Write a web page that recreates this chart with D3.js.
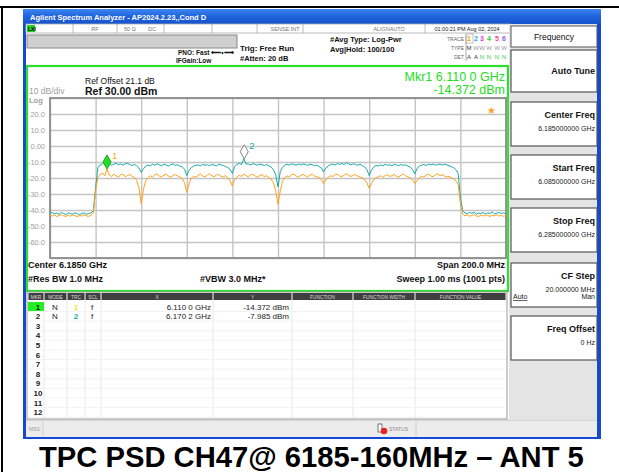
<!DOCTYPE html>
<html><head><meta charset="utf-8">
<script src="https://cdn.jsdelivr.net/npm/d3@7"></script>
<style>body{margin:0;background:#fff}svg{display:block;font-family:"Liberation Sans",Arial,sans-serif}</style>
</head><body><svg id="c" width="619" height="472"></svg>
<script>
// ---------------- data ----------------
const freqStartGHz = 6.085, freqStopGHz = 6.285;      // 201 points, 1 MHz apart
const yRefDbm = 30, yBottomDbm = -70;
const yTickValues = [20, 10, 0, -10, -20, -30, -40, -50, -60];
const yTickLabels = ["20.0", "10.0", "0.00", "-10.0", "-20.0", "-30.0", "-40.0", "-50.0", "-60.0"];

// Trace 1 (yellow/orange, log-power average)
const trace1Avg = [
 -43.2,-43.8,-43.0,-44.1,-43.5,-42.9,-43.7,-44.0,-43.3,-43.9,-43.1,-43.6,-44.2,-43.4,-43.8,-43.0,-43.7,-44.0,-43.2,-42.0,
 -28.0,
 -19.5,-17.8,-16.9,-18.6,-14.372,-18.2,-19.0,-17.6,-18.8,-19.4,-18.1,-17.5,-19.2,-18.4,-17.9,-18.9,-19.6,-21.5,-26.0,
 -36.0,
 -27.0,-21.5,-19.8,-18.6,-19.4,-18.0,-17.4,-18.9,-19.3,-18.2,-17.7,-18.8,-19.5,-18.3,-17.9,-18.7,-19.4,-20.3,-23.0,
 -29.0,
 -23.5,-20.1,-18.9,-19.5,-18.2,-17.6,-18.8,-19.3,-18.0,-17.4,-18.6,-19.2,-18.1,-17.8,-18.9,-19.4,-18.5,-20.0,-21.8,
 -25.0,
 -21.0,-19.2,-18.4,-18.9,-17.6,-18.5,-19.3,-18.1,-17.7,-18.8,-19.5,-18.3,-18.0,-19.1,-18.6,-19.7,-20.6,-23.0,-28.0,
 -36.5,
 -28.0,-22.0,-19.6,-18.7,-19.2,-18.0,-17.5,-18.9,-19.4,-18.3,-17.8,-18.6,-19.3,-18.2,-17.6,-18.8,-19.1,-19.8,-21.0,
 -23.5,
 -21.2,-19.5,-18.6,-19.1,-18.0,-17.6,-18.7,-19.2,-18.1,-17.4,-18.5,-19.0,-18.3,-17.9,-18.8,-19.4,-19.9,-21.0,-23.0,
 -26.5,
 -23.6,-21.0,-19.8,-19.3,-18.5,-19.6,-18.4,-17.9,-19.0,-18.6,-17.7,-18.9,-19.5,-18.2,-17.5,-18.6,-19.3,-20.0,-21.2,
 -23.5,
 -21.5,-19.8,-18.9,-19.4,-18.1,-17.6,-18.7,-19.2,-18.0,-17.3,-18.5,-17.9,-18.8,-19.3,-19.0,-19.8,-20.6,-21.8,
 -24.0,
 -36.0,
 -42.5,-43.6,-43.1,-43.9,-43.4,-42.8,-43.7,-44.1,-43.2,-43.8,-43.0,-43.5,-44.0,-43.3,-43.6,-42.9,-43.8,-43.4,-44.0,-43.2
];

// Trace 2 (cyan, max hold)
const trace2Max = [
 -42.1,-41.6,-42.4,-41.9,-42.8,-41.5,-42.2,-42.9,-41.8,-42.3,-42.6,-41.7,-42.4,-43.0,-42.1,-41.9,-42.7,-42.2,-41.8,-40.5,
 -26.0,
 -13.5,-11.8,-11.2,-10.6,-11.9,-11.0,-12.1,-11.4,-10.8,-11.7,-11.2,-12.0,-11.1,-10.9,-11.6,-12.2,-11.5,-12.4,-13.8,
 -16.5,
 -14.2,-12.6,-11.9,-12.3,-11.4,-12.0,-11.1,-11.8,-12.4,-11.3,-11.9,-12.5,-11.6,-11.2,-12.1,-11.7,-12.6,-13.0,-14.5,
 -18.5,
 -15.2,-13.4,-12.6,-12.1,-11.8,-12.4,-11.5,-12.0,-11.7,-12.3,-11.6,-11.9,-12.5,-11.4,-11.8,-12.2,-12.8,-13.5,-14.6,
 -17.2,
 -12.8,-11.4,-10.9,-11.6,-7.985,-11.2,-11.3,-11.9,-11.0,-11.5,-12.0,-11.3,-11.7,-12.2,-11.6,-12.4,-13.2,-14.8,-18.0,
 -25.5,
 -16.0,-13.2,-12.0,-11.4,-11.9,-11.1,-11.6,-12.0,-11.3,-11.8,-11.2,-11.5,-12.1,-11.4,-11.7,-12.3,-12.0,-12.8,-13.6,
 -16.2,
 -13.8,-12.5,-11.7,-11.3,-11.9,-11.0,-11.5,-10.9,-11.6,-10.4,-11.2,-11.8,-11.1,-11.6,-12.0,-11.4,-12.3,-13.0,-14.8,
 -18.5,
 -15.0,-13.2,-12.1,-12.6,-11.8,-12.3,-11.5,-12.0,-11.7,-12.4,-11.4,-11.9,-12.2,-11.6,-12.1,-11.8,-12.6,-13.1,-14.6,
 -17.5,
 -14.0,-12.6,-12.0,-11.5,-12.2,-11.4,-11.8,-11.2,-12.0,-11.6,-11.3,-11.9,-11.4,-11.8,-12.3,-12.9,-13.5,-14.8,
 -17.0,
 -32.0,
 -40.6,-41.8,-42.3,-41.6,-42.0,-41.4,-42.5,-41.9,-42.2,-41.5,-42.6,-41.8,-42.1,-41.3,-42.4,-41.9,-41.6,-42.2,-41.8,-42.5
];

const markerNumbers = [1, 2];
const markerTraces = [1, 2];
const markerFreqGHz = [6.1100, 6.1702];
const markerValues = [-14.372, -7.985];
const markerXText = ["6.110 0 GHz", "6.170 2 GHz"];
const markerYText = ["-14.372 dBm", "-7.985 dBm"];

const tableHeaders = ["MKR", "MODE", "TRC", "SCL", "X", "Y", "FUNCTION", "FUNCTION WIDTH", "FUNCTION VALUE"];
const softkeyTitles = ["Auto Tune", "Center Freq", "Start Freq", "Stop Freq", "CF Step", "Freq Offset"];
const softkeyValues = ["", "6.185000000 GHz", "6.085000000 GHz", "6.285000000 GHz", "20.000000 MHz", "0 Hz"];

// ---------------- drawing ----------------
const svg = d3.select("#c");
const C = { teal: "#1aa9a9", orange: "#ffa21a", green: "#2ee02e", grid: "#c4c4c4", gray: "#9a9a9a" };

// outer table borders
svg.append("line").attr("x1", 0).attr("x2", 619).attr("y1", 7).attr("y2", 7).attr("stroke", "#000").attr("stroke-width", 2);
svg.append("line").attr("x1", 2).attr("x2", 2).attr("y1", 7).attr("y2", 472).attr("stroke", "#000").attr("stroke-width", 2);

// window
const defs = svg.append("defs");
const g1 = defs.append("linearGradient").attr("id", "tb").attr("x1", 0).attr("y1", 0).attr("x2", 0).attr("y2", 1);
g1.append("stop").attr("offset", "0").attr("stop-color", "#3d86f0");
g1.append("stop").attr("offset", "0.5").attr("stop-color", "#1f63dc");
g1.append("stop").attr("offset", "1").attr("stop-color", "#1653cf");
svg.append("rect").attr("x", 23).attr("y", 9).attr("width", 578).attr("height", 430).attr("fill", "#1449d0");
svg.append("rect").attr("x", 23).attr("y", 9).attr("width", 578).attr("height", 15).attr("fill", "url(#tb)");
svg.append("text").attr("x", 30).attr("y", 20).attr("fill", "#fff").attr("font-size", 7.5).attr("font-weight", "bold")
  .text("Agilent Spectrum Analyzer - AP2024.2.23,,Cond D");
svg.append("rect").attr("x", 26).attr("y", 24).attr("width", 571).attr("height", 413).attr("fill", "#fff");

// status row
const sr = svg.append("g").attr("font-size", 5.5).attr("fill", "#777");
sr.append("rect").attr("x", 26).attr("y", 24).attr("width", 484).attr("height", 9).attr("fill", "#fff").attr("stroke", "#aaa").attr("stroke-width", 0.8);
sr.append("rect").attr("x", 27).attr("y", 25).attr("width", 8).attr("height", 7).attr("fill", "#22d422");
sr.append("text").attr("x", 28).attr("y", 31).attr("fill", "#000").attr("font-size", 5).attr("font-weight", "bold").text("LXI");
[73, 117, 164, 212, 257, 303, 425].forEach(x => sr.append("line").attr("x1", x).attr("x2", x).attr("y1", 24).attr("y2", 33).attr("stroke", "#aaa").attr("stroke-width", 0.8));
sr.append("text").attr("x", 95).attr("y", 31).attr("text-anchor", "middle").text("RF");
sr.append("text").attr("x", 124).attr("y", 31).text("50 Ω");
sr.append("text").attr("x", 148).attr("y", 31).text("DC");
sr.append("text").attr("x", 285).attr("y", 31).attr("text-anchor", "middle").text("SENSE:INT");
sr.append("text").attr("x", 389).attr("y", 31).attr("text-anchor", "middle").text("ALIGNAUTO");
sr.append("text").attr("x", 467).attr("y", 31).attr("text-anchor", "middle").attr("fill", "#222").text("01:00:21 PM Aug 02, 2024");

// settings band
svg.append("rect").attr("x", 27).attr("y", 35).attr("width", 210).attr("height", 13).attr("fill", "#cfcfcf").attr("stroke", "#888").attr("stroke-width", 1);
const sb = svg.append("g").attr("font-weight", "bold").attr("fill", "#111");
sb.append("text").attr("x", 178).attr("y", 55).attr("font-size", 6.5).text("PNO: Fast ⟵•⟶");
sb.append("text").attr("x", 176).attr("y", 63).attr("font-size", 6.5).text("IFGain:Low");
sb.append("text").attr("x", 240).attr("y", 51).attr("font-size", 8).text("Trig: Free Run");
sb.append("text").attr("x", 240).attr("y", 61).attr("font-size", 7.5).text("#Atten: 20 dB");
sb.append("text").attr("x", 330).attr("y", 42).attr("font-size", 7.5).text("#Avg Type: Log-Pwr");
sb.append("text").attr("x", 330).attr("y", 52).attr("font-size", 7.5).text("Avg|Hold: 100/100");
const tr = svg.append("g").attr("font-size", 5).attr("fill", "#666");
tr.append("text").attr("x", 464).attr("y", 41).attr("text-anchor", "end").text("TRACE");
tr.append("text").attr("x", 464).attr("y", 50).attr("text-anchor", "end").text("TYPE");
tr.append("text").attr("x", 464).attr("y", 59).attr("text-anchor", "end").text("DET");
tr.append("line").attr("x1", 466).attr("x2", 466).attr("y1", 35).attr("y2", 61).attr("stroke", "#aaa");
const traceCols = ["#f0a500", "#1ab0d0", "#e040e0", "#30d030", "#ff4090", "#9060f0"];
const digitX = [469, 476, 482, 489, 497, 504];
digitX.forEach((x, i) => {
  tr.append("text").attr("x", x).attr("y", 41).attr("font-size", 7).attr("font-weight", "bold").attr("fill", traceCols[i]).attr("text-anchor", "middle").text(i + 1);
  tr.append("text").attr("x", x).attr("y", 50).attr("font-size", 6).attr("fill", i === 0 ? "#333" : "#999").attr("text-anchor", "middle").text(i === 0 ? "M" : "W");
  tr.append("text").attr("x", x).attr("y", 59).attr("font-size", 6).attr("fill", i < 2 ? "#333" : "#3c3").attr("text-anchor", "middle").text(i < 2 ? "A" : "N");
});
tr.append("rect").attr("x", 466).attr("y", 34).attr("width", 7).attr("height", 9).attr("fill", "none").attr("stroke", "#999").attr("stroke-width", 0.6);

// plot panel (green frame)
svg.append("rect").attr("x", 27).attr("y", 66).attr("width", 481).attr("height", 225).attr("fill", "#fff").attr("stroke", C.green).attr("stroke-width", 2.2);

const x = d3.scaleLinear().domain([freqStartGHz, freqStopGHz]).range([50, 506]);
const y = d3.scaleLinear().domain([yBottomDbm, yRefDbm]).range([258, 98]);
const freqs = d3.range(trace1Avg.length).map(i => freqStartGHz + i * (freqStopGHz - freqStartGHz) / (trace1Avg.length - 1));
const divX = d3.range(11).map(i => freqStartGHz + i * (freqStopGHz - freqStartGHz) / 10);
const divY = d3.range(yBottomDbm, yRefDbm + 1, 10);

const grid = svg.append("g");
grid.append("g").attr("transform", "translate(0,258)")
  .call(d3.axisBottom(x).tickValues(divX).tickSize(-160).tickFormat(""))
  .call(g => { g.select(".domain").remove(); g.selectAll("line").attr("stroke", C.grid).attr("stroke-width", 1.4); });
grid.append("g").attr("transform", "translate(50,0)")
  .call(d3.axisLeft(y).tickValues(divY).tickSize(-456).tickFormat(""))
  .call(g => { g.select(".domain").remove(); g.selectAll("line").attr("stroke", C.grid).attr("stroke-width", 1.4); });
svg.append("rect").attr("x", 50).attr("y", 98).attr("width", 456).attr("height", 160).attr("fill", "none").attr("stroke", "#8c8c8c").attr("stroke-width", 1.8);

// y labels
svg.append("g").attr("transform", "translate(47,0)")
  .call(d3.axisLeft(y).tickValues(yTickValues).tickSize(0).tickFormat((d, i) => yTickLabels[i]))
  .call(g => { g.select(".domain").remove(); g.selectAll("text").attr("fill", "#a0a0a0").attr("font-size", 7.5).attr("font-family", "Liberation Sans, Arial").attr("dx", 1); });

// traces
const line = d3.line().x((d, i) => x(freqs[i])).y(d => y(d));
svg.append("path").datum(trace2Max).attr("d", line).attr("fill", "none").attr("stroke", C.teal).attr("stroke-width", 1.0);
svg.append("path").datum(trace1Avg).attr("d", line).attr("fill", "none").attr("stroke", C.orange).attr("stroke-width", 1.0);

// markers
markerNumbers.forEach((n, i) => {
  const mx = x(markerFreqGHz[i]), my = y(markerValues[i]);
  svg.append("path").attr("d", `M${mx},${my}L${mx - 4},${my - 7}L${mx},${my - 14}L${mx + 4},${my - 7}Z`)
    .attr("fill", i === 0 ? "#22dd22" : "#fff").attr("stroke", i === 0 ? "#15a015" : "#777").attr("stroke-width", 0.9);
  svg.append("text").attr("x", mx + 5).attr("y", my - 10).attr("font-size", 9.5)
    .attr("fill", markerTraces[i] === 1 ? C.orange : C.teal).text(n);
});
svg.append("text").attr("x", 491).attr("y", 114).attr("text-anchor", "middle").attr("font-size", 10).attr("fill", C.orange).text("★");

// annotations in plot panel
svg.append("text").attr("x", 85).attr("y", 84).attr("font-size", 8.5).attr("fill", "#111").text("Ref Offset 21.1 dB");
svg.append("text").attr("x", 85).attr("y", 95).attr("font-size", 10.5).attr("font-weight", "bold").attr("fill", "#111").text("Ref 30.00 dBm");
svg.append("text").attr("x", 29).attr("y", 94).attr("font-size", 8.5).attr("fill", "#a0a0a0").text("10 dB/div");
svg.append("text").attr("x", 29).attr("y", 102.5).attr("font-size", 7.5).attr("font-weight", "bold").attr("fill", "#a0a0a0").text("Log");
svg.append("text").attr("x", 505).attr("y", 81).attr("text-anchor", "end").attr("font-size", 12.5).attr("fill", "#22dd22")
  .text(`Mkr${markerNumbers[0]} ${markerXText[0]}`);
svg.append("text").attr("x", 505).attr("y", 94).attr("text-anchor", "end").attr("font-size", 12.5).attr("fill", "#22dd22")
  .text(markerYText[0]);

const bt = svg.append("g").attr("font-size", 9).attr("font-weight", "bold").attr("fill", "#111");
bt.append("text").attr("x", 28).attr("y", 268).text("Center 6.1850 GHz");
bt.append("text").attr("x", 505).attr("y", 268).attr("text-anchor", "end").text("Span 200.0 MHz");
bt.append("text").attr("x", 28).attr("y", 282).text("#Res BW 1.0 MHz");
bt.append("text").attr("x", 200).attr("y", 282).text("#VBW 3.0 MHz*");
bt.append("text").attr("x", 505).attr("y", 282).attr("text-anchor", "end").text("Sweep  1.00 ms (1001 pts)");

// marker table
const colX = [28, 44, 67, 85, 101, 213, 292, 353, 415, 506];
const tb = svg.append("g");
tb.append("rect").attr("x", 27).attr("y", 292).attr("width", 480).attr("height", 127).attr("fill", "#fff").attr("stroke", "#999").attr("stroke-width", 1);
tableHeaders.forEach((h, i) => {
  tb.append("rect").attr("x", colX[i] + 0.5).attr("y", 293).attr("width", colX[i + 1] - colX[i] - 1).attr("height", 7).attr("fill", "#3f3f3f");
  tb.append("text").attr("x", (colX[i] + colX[i + 1]) / 2).attr("y", 298.5).attr("text-anchor", "middle").attr("font-size", 4.8).attr("fill", "#ddd").text(h);
});
colX.slice(1, -1).forEach(cx => tb.append("line").attr("x1", cx).attr("x2", cx).attr("y1", 300).attr("y2", 418).attr("stroke", "#e2e2e2").attr("stroke-width", 0.8));
d3.range(12).forEach(r => {
  const yb = 309.5 + r * 9.6;
  tb.append("line").attr("x1", 28).attr("x2", 506).attr("y1", yb + 2).attr("y2", yb + 2).attr("stroke", "#eee").attr("stroke-width", 0.7);
  if (r === 0) tb.append("rect").attr("x", 28).attr("y", yb - 7.5).attr("width", 16).attr("height", 9).attr("fill", "#22ee22");
  tb.append("text").attr("x", 38).attr("y", yb).attr("text-anchor", "middle").attr("font-size", 8).attr("font-weight", "bold").attr("fill", "#222").text(r + 1);
});
markerNumbers.forEach((n, i) => {
  const yb = 309.5 + i * 9.6;
  tb.append("text").attr("x", 55).attr("y", yb).attr("text-anchor", "middle").attr("font-size", 8).attr("fill", "#222").text("N");
  tb.append("text").attr("x", 76).attr("y", yb).attr("text-anchor", "middle").attr("font-size", 8).attr("font-weight", "bold")
    .attr("fill", markerTraces[i] === 1 ? "#f0e020" : C.teal).text(markerTraces[i]);
  tb.append("text").attr("x", 92).attr("y", yb).attr("text-anchor", "middle").attr("font-size", 8).attr("fill", "#222").text("f");
  tb.append("text").attr("x", 211).attr("y", yb).attr("text-anchor", "end").attr("font-size", 8).attr("fill", "#222").text(markerXText[i]);
  tb.append("text").attr("x", 289).attr("y", yb).attr("text-anchor", "end").attr("font-size", 8).attr("fill", "#222").text(markerYText[i]);
});

// msg bar
svg.append("rect").attr("x", 26).attr("y", 420).attr("width", 571).attr("height", 17).attr("fill", "#ececec");
svg.append("line").attr("x1", 26).attr("x2", 597).attr("y1", 420).attr("y2", 420).attr("stroke", "#bbb");
svg.append("text").attr("x", 29).attr("y", 431).attr("font-size", 5).attr("fill", "#999").text("MSG");
[43, 416].forEach(lx => svg.append("line").attr("x1", lx).attr("x2", lx).attr("y1", 421).attr("y2", 436).attr("stroke", "#ccc"));
svg.append("rect").attr("x", 378).attr("y", 424).attr("width", 4).attr("height", 8).attr("fill", "#fff").attr("stroke", "#555").attr("stroke-width", 0.8);
svg.append("circle").attr("cx", 384).attr("cy", 431).attr("r", 3.3).attr("fill", "#e22");
svg.append("text").attr("x", 389).attr("y", 431).attr("font-size", 5).attr("fill", "#888").text("STATUS");

// softkey panel
svg.append("rect").attr("x", 509).attr("y", 24).attr("width", 88).attr("height", 396).attr("fill", "#e4e4e4");
svg.append("rect").attr("x", 511).attr("y", 26).attr("width", 86).attr("height", 21).attr("fill", "#fff").attr("stroke", "#555").attr("stroke-width", 1);
svg.append("text").attr("x", 554).attr("y", 39.5).attr("text-anchor", "middle").attr("font-size", 8.5).attr("fill", "#111").text("Frequency");
const keyTop = [50, 102, 155, 208, 263, 316];
softkeyTitles.forEach((t, i) => {
  const ty = keyTop[i], h = i === 0 ? 42 : 44;
  svg.append("rect").attr("x", 511).attr("y", ty).attr("width", 86).attr("height", h).attr("fill", "#fff").attr("stroke", "#555").attr("stroke-width", 1.2);
  const tY = i === 0 ? ty + 24 : ty + 16;
  svg.append("text").attr("x", 595).attr("y", tY).attr("text-anchor", "end").attr("font-size", 9).attr("font-weight", "bold").attr("fill", "#111").text(t);
  if (softkeyValues[i]) svg.append("text").attr("x", 595).attr("y", tY + 13).attr("text-anchor", "end").attr("font-size", 7).attr("fill", "#222").text(softkeyValues[i]);
});
svg.append("text").attr("x", 513).attr("y", 299).attr("font-size", 7).attr("fill", "#222").attr("text-decoration", "underline").text("Auto");
svg.append("text").attr("x", 595).attr("y", 299).attr("text-anchor", "end").attr("font-size", 7).attr("fill", "#222").text("Man");

// caption
svg.append("text").attr("x", 39).attr("y", 467).attr("font-size", 29.2).attr("font-weight", "bold").attr("fill", "#000")
  .text("TPC PSD CH47@ 6185-160MHz – ANT 5");
</script></body></html>
